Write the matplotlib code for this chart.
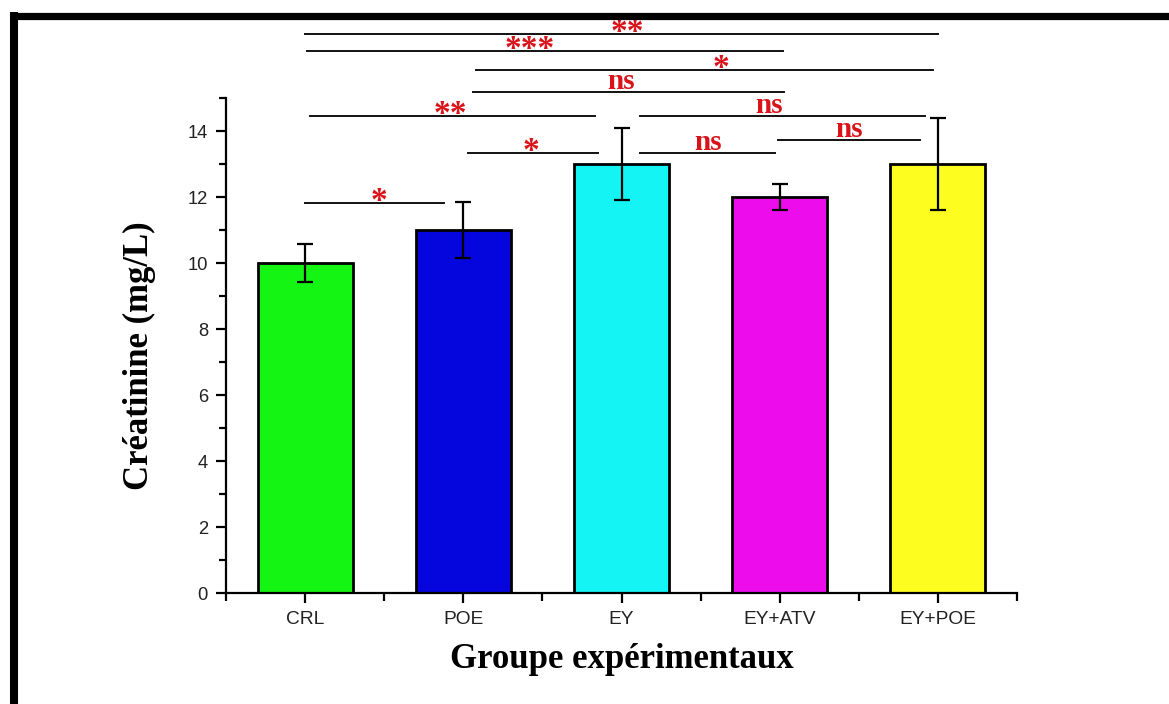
import matplotlib
matplotlib.use("Agg")
import matplotlib.pyplot as plt
from matplotlib.lines import Line2D
from matplotlib.ticker import MultipleLocator

# Groups and measured creatinine (mean ± error)
groups = ["CRL", "POE", "EY", "EY+ATV", "EY+POE"]
means = [10.0, 11.0, 13.0, 12.0, 13.0]
errors = [0.58, 0.85, 1.10, 0.40, 1.40]
bar_colors = ["#14f514", "#0505dd", "#14f4f4", "#ec0cec", "#fdfd1f"]

# Pairwise comparisons: (group a, group b, significance label)
comparisons = [
    ("CRL", "POE", "*"),
    ("POE", "EY", "*"),
    ("EY", "EY+ATV", "ns"),
    ("EY+ATV", "EY+POE", "ns"),
    ("CRL", "EY", "**"),
    ("EY", "EY+POE", "ns"),
    ("POE", "EY+ATV", "ns"),
    ("POE", "EY+POE", "*"),
    ("CRL", "EY+ATV", "***"),
    ("CRL", "EY+POE", "**"),
]

# Layout of each comparison line: (y level, left trim, right trim, label x)
bracket_layout = [
    (11.82, 0.00, 0.12, 0.47),
    (13.33, 0.03, 0.15, 1.43),
    (13.33, 0.12, 0.03, 2.55),
    (13.73, -0.01, 0.11, 3.44),
    (14.45, 0.03, 0.17, 0.92),
    (14.45, 0.12, 0.08, 2.93),
    (15.18, 0.06, -0.03, 2.00),
    (15.85, 0.08, 0.03, 2.63),
    (16.42, 0.01, -0.02, 1.42),
    (16.94, 0.00, 0.00, 2.04),
]

fig = plt.figure(figsize=(11.69, 7.04), dpi=100)
ax = fig.add_axes([226 / 1169, 1 - 593 / 704, (1017 - 226) / 1169, (593 - 98) / 704])

x = list(range(len(groups)))
ax.bar(x, means, width=0.6, color=bar_colors, edgecolor="black", linewidth=2.0, zorder=2)
ax.errorbar(x, means, yerr=errors, fmt="none", ecolor="black", elinewidth=1.6,
            capsize=6, capthick=1.6, zorder=3)

ax.set_xlim(-0.5, len(groups) - 0.5)
ax.set_ylim(0, 15)
ax.set_xticks(x)
ax.set_xticklabels(groups, fontfamily="Liberation Sans", fontsize=13.8, color="#222222")
ax.xaxis.set_minor_locator(MultipleLocator(1.0, offset=0.5))
ax.yaxis.set_major_locator(MultipleLocator(2))
ax.yaxis.set_minor_locator(MultipleLocator(1))
for lab in ax.get_yticklabels():
    lab.set_fontfamily("Liberation Sans")
ax.tick_params(axis="y", labelsize=13.2, labelcolor="#222222")
ax.tick_params(which="major", direction="out", length=7, width=1.6, pad=6)
ax.tick_params(which="minor", direction="out", length=5, width=1.6)
ax.tick_params(axis="x", which="minor", length=6)

for side in ("top", "right"):
    ax.spines[side].set_visible(False)
for side in ("left", "bottom"):
    ax.spines[side].set_linewidth(1.6)

ax.set_ylabel("Créatinine (mg/L)", fontfamily="Liberation Serif", fontweight="bold",
              fontsize=25, labelpad=23)
ax.yaxis.label.set_y(0.48)
ax.set_xlabel("Groupe expérimentaux", fontfamily="Liberation Serif", fontweight="bold",
              fontsize=25, labelpad=11)

px = 15.0 / (593 - 98)  # data units per pixel on the y axis
pos = {g: i for i, g in enumerate(groups)}
for (a, b, label), (yl, lt, rt, tx) in zip(comparisons, bracket_layout):
    xa, xb = pos[a] + lt, pos[b] - rt
    ax.add_line(Line2D([xa, xb], [yl, yl], color="#111111", linewidth=1.4, clip_on=False))
    if label == "ns":
        ax.text(tx, yl + 3 * px, label, ha="center", va="baseline", color="#d8141a",
                fontfamily="Liberation Serif", fontweight="bold", fontsize=21, clip_on=False)
    else:
        ax.text(tx, yl - 7 * px, label, ha="center", va="baseline", color="#d8141a",
                fontfamily="Liberation Serif", fontweight="bold", fontsize=24, clip_on=False)

# Black frame along the top and left edges of the figure
fig.add_artist(Line2D([10 / 1169, 1.0], [1 - 15.5 / 704] * 2, color="black",
                      linewidth=5.2, solid_capstyle="butt"))
fig.add_artist(Line2D([14 / 1169] * 2, [0.0, 1 - 12 / 704], color="black",
                      linewidth=5.8, solid_capstyle="butt"))

fig.savefig("out.png", dpi=100)
